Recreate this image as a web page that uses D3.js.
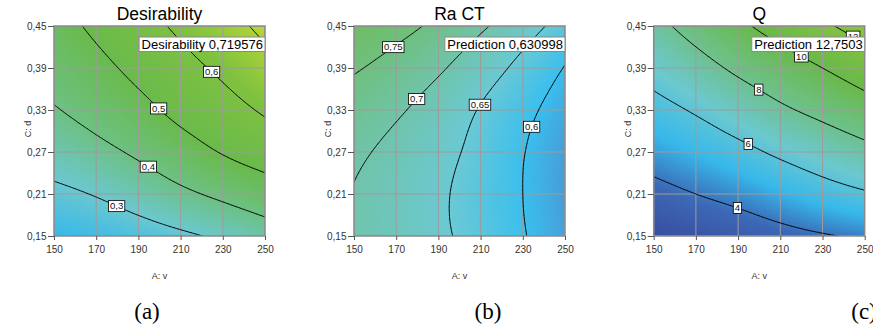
<!DOCTYPE html>
<html>
<head>
<meta charset="utf-8">
<script src="https://cdn.jsdelivr.net/npm/d3@7"></script>
<style>
  body { margin: 0; background: #ffffff; }
</style>
</head>
<body>
<svg id="chart" width="873" height="331"></svg>
<script>
// Factor grid: cutting speed v (A) across, depth of cut d (C) up.
const speedTicks = [150, 170, 190, 210, 230, 250];
const depthTicks = [0.15, 0.21, 0.27, 0.33, 0.39, 0.45];
const speedTickLabels = ["150", "170", "190", "210", "230", "250"];
const depthTickLabels = ["0,15", "0,21", "0,27", "0,33", "0,39", "0,45"];

// Response values at each (d, v) grid node; one row per depth, low to high.
const desirability = [
  [0.222, 0.237, 0.258, 0.284, 0.316, 0.352],
  [0.282, 0.305, 0.341, 0.382, 0.418, 0.454],
  [0.340, 0.375, 0.414, 0.460, 0.505, 0.541],
  [0.394, 0.432, 0.474, 0.524, 0.566, 0.611],
  [0.435, 0.476, 0.523, 0.571, 0.617, 0.669],
  [0.468, 0.516, 0.566, 0.616, 0.667, 0.720]
];
const raCT = [
  [0.696, 0.679, 0.658, 0.633, 0.603, 0.570],
  [0.698, 0.679, 0.657, 0.630, 0.600, 0.565],
  [0.708, 0.688, 0.665, 0.636, 0.602, 0.567],
  [0.727, 0.706, 0.680, 0.647, 0.613, 0.578],
  [0.755, 0.732, 0.706, 0.673, 0.637, 0.598],
  [0.791, 0.767, 0.739, 0.707, 0.671, 0.631]
];
const flowQ = [
  [2.69, 3.00, 3.30, 3.62, 3.90, 4.17],
  [3.60, 4.00, 4.38, 4.88, 5.40, 5.85],
  [4.58, 5.05, 5.60, 6.25, 6.88, 7.52],
  [5.55, 6.15, 6.92, 7.74, 8.45, 9.22],
  [6.53, 7.38, 8.30, 9.15, 10.00, 10.95],
  [7.54, 8.61, 9.67, 10.70, 11.71, 12.75]
];

// Contour levels and their printed labels (null = line without label)
const desirabilityLevels = [0.3, 0.4, 0.5, 0.6, 0.7];
const desirabilityLevelLabels = ["0,3", "0,4", "0,5", "0,6", null];
const raLevels = [0.6, 0.65, 0.7, 0.75];
const raLevelLabels = ["0,6", "0,65", "0,7", "0,75"];
const qLevels = [4, 6, 8, 10, 12];
const qLevelLabels = ["4", "6", "8", "10", "12"];

// Flagged optimum (v = 250, d = 0.45)
const flagNames = ["Desirability", "Prediction", "Prediction"];
const flagValues = ["0,719576", "0,630998", "12,7503"];
const titles = ["Desirability", "Ra CT", "Q"];
const captions = ["(a)", "(b)", "(c)"];

// ---- layout & style ----
const sans = '"Liberation Sans", Arial, sans-serif';
const serif = '"Liberation Serif", "Times New Roman", serif';
const plotLefts = [54, 354, 653.7];
const plotTop = 26, plotW = 211, plotH = 210;
const captionX = [147, 488, 864];
// speed at which each contour label sits on its line
const labelSpeeds = [
  [179.7, 194.7, 199.6, 224.7, null],
  [234.2, 209.7, 179.7, 168.6],
  [189.7, 194.8, 199.8, 220.0, 244.5]
];
const colorStops = [
  { domain: [0.22, 0.30, 0.40, 0.50, 0.62, 0.72],
    range: ["#37b8ea", "#6bc8d0", "#6dc183", "#6aba4c", "#80c240", "#b8d638"] },
  { domain: [0.565, 0.60, 0.65, 0.70, 0.75, 0.79],
    range: ["#489dd7", "#3abfee", "#6bc9d4", "#70c4aa", "#6fc07e", "#70bd65"] },
  { domain: [2.6, 3.8, 5.0, 6.5, 8.0, 10.0, 12.75],
    range: ["#3a4c9f", "#3d69b6", "#38b9eb", "#6dc9d0", "#6fc290", "#6bba4c", "#8dc63f"] }
];

const grids = [desirability, raCT, flowQ];
const levelSets = [desirabilityLevels, raLevels, qLevels];
const levelLabelSets = [desirabilityLevelLabels, raLevelLabels, qLevelLabels];

// Smooth surface through the grid nodes (Catmull-Rom, quadratic end extension)
function extend(a) {
  const n = a.length;
  return [3 * a[0] - 3 * a[1] + a[2], ...a, 3 * a[n - 1] - 3 * a[n - 2] + a[n - 3]];
}
function cr(p, t) {
  const i = Math.max(0, Math.min(Math.floor(t), p.length - 4));
  const s = t - i;
  const a = p[i], b = p[i + 1], c = p[i + 2], d = p[i + 3];
  return 0.5 * (2 * b + (c - a) * s + (2 * a - 5 * b + 4 * c - d) * s * s + (-a + 3 * b - 3 * c + d) * s * s * s);
}
function surface(grid) {
  const rows = grid.map(extend);
  return (tx, ty) => cr(extend(rows.map(r => cr(r, tx))), ty);
}

const v0 = speedTicks[0], v1 = speedTicks[speedTicks.length - 1];
const d0 = depthTicks[0], d1 = depthTicks[depthTicks.length - 1];
const nodes = speedTicks.length - 1;
const N = 161;

const svg = d3.select("#chart");
const defs = svg.append("defs");

grids.forEach((grid, k) => {
  const f = surface(grid);
  const x = d3.scaleLinear().domain([v0, v1]).range([0, plotW]);
  const y = d3.scaleLinear().domain([d0, d1]).range([plotH, 0]);
  const color = d3.scaleLinear().domain(colorStops[k].domain).range(colorStops[k].range).clamp(true);
  const tOfV = v => (v - v0) / (v1 - v0) * nodes;
  const tOfD = d => (d - d0) / (d1 - d0) * nodes;
  const value = (v, d) => f(tOfV(v), tOfD(d));

  // fine sample grid for the contour generator
  const values = new Float64Array(N * N);
  for (let j = 0; j < N; j++) {
    for (let i = 0; i < N; i++) {
      values[j * N + i] = f(i * nodes / (N - 1), j * nodes / (N - 1));
    }
  }
  const [vmin, vmax] = d3.extent(values);
  const path = d3.geoPath(d3.geoTransform({
    point(X, Y) {
      this.stream.point(
        x(v0 + (X - 0.5) * (v1 - v0) / (N - 1)),
        y(d0 + (Y - 0.5) * (d1 - d0) / (N - 1)));
    }
  }));

  const g = svg.append("g").attr("transform", `translate(${plotLefts[k]},${plotTop})`);
  const clipId = "plot-clip-" + k;
  defs.append("clipPath").attr("id", clipId)
    .append("rect").attr("width", plotW).attr("height", plotH);

  const field = g.append("g").attr("clip-path", `url(#${clipId})`);
  field.append("rect").attr("width", plotW).attr("height", plotH).attr("fill", color(vmin));
  const K = 140;
  const step = (vmax - vmin) / K;
  const bandThresholds = d3.range(1, K).map(q => vmin + q * step);
  const bands = d3.contours().size([N, N]).thresholds(bandThresholds)(values);
  field.selectAll("path.band").data(bands).join("path")
    .attr("class", "band")
    .attr("d", path)
    .attr("fill", c => color(c.value + step / 2))
    .attr("stroke", c => color(c.value + step / 2))
    .attr("stroke-width", 0.4);

  // grid lines
  field.selectAll("line.gx").data(speedTicks).join("line").attr("class", "gx")
    .attr("x1", d => x(d)).attr("x2", d => x(d)).attr("y1", 0).attr("y2", plotH)
    .attr("stroke", "#9c9c9c").attr("stroke-width", 1);
  field.selectAll("line.gy").data(depthTicks).join("line").attr("class", "gy")
    .attr("y1", d => y(d)).attr("y2", d => y(d)).attr("x1", 0).attr("x2", plotW)
    .attr("stroke", "#9c9c9c").attr("stroke-width", 1);

  // contour lines
  const levels = levelSets[k];
  const lines = d3.contours().size([N, N]).thresholds(levels)(values);
  field.selectAll("path.level").data(lines).join("path")
    .attr("class", "level")
    .attr("d", path)
    .attr("fill", "none")
    .attr("stroke", "#000")
    .attr("stroke-width", 1);

  // plot frame
  g.append("rect").attr("width", plotW).attr("height", plotH)
    .attr("fill", "none").attr("stroke", "#8a8a8a").attr("stroke-width", 1.5);

  // contour labels, placed on the line at the chosen speed
  levels.forEach((lv, li) => {
    const txt = levelLabelSets[k][li];
    const vs = labelSpeeds[k][li];
    if (txt == null || vs == null) return;
    let dPrev = d1, fPrev = value(vs, d1), dAt = null;
    for (let s = 1; s <= 300; s++) {
      const dd = d1 - (d1 - d0) * s / 300;
      const fv = value(vs, dd);
      if ((fPrev - lv) * (fv - lv) <= 0) {
        dAt = dPrev + (dd - dPrev) * (lv - fPrev) / (fv - fPrev);
        break;
      }
      dPrev = dd; fPrev = fv;
    }
    if (dAt == null) return;
    const cx = x(vs), cy = y(dAt);
    const lg = g.append("g").attr("transform", `translate(${cx},${cy})`);
    const t = lg.append("text").attr("text-anchor", "middle").attr("dy", "0.35em")
      .style("font-family", sans).attr("font-size", 9.5).attr("fill", "#111").text(txt);
    const w = t.node().getComputedTextLength();
    lg.insert("rect", "text").attr("x", -w / 2 - 1.5).attr("y", -5.5)
      .attr("width", w + 3).attr("height", 11)
      .attr("fill", "#fff").attr("stroke", "#000").attr("stroke-width", 0.8);
  });

  // axes
  const yAxis = d3.axisLeft(y).tickValues(depthTicks)
    .tickFormat((d, i) => depthTickLabels[i]).tickSize(6).tickPadding(1.5);
  const xAxis = d3.axisBottom(x).tickValues(speedTicks)
    .tickFormat((d, i) => speedTickLabels[i]).tickSize(4).tickPadding(5.5);
  const ya = g.append("g").call(yAxis);
  const xa = g.append("g").attr("transform", `translate(0,${plotH})`).call(xAxis);
  [ya, xa].forEach(a => {
    a.select(".domain").remove();
    a.selectAll(".tick line").attr("stroke", "#555");
    a.selectAll(".tick text").attr("font-size", 10).attr("fill", "#333")
      .style("font-family", sans);
  });

  // axis titles
  g.append("text").attr("x", plotW / 2).attr("y", 253).attr("text-anchor", "middle")
    .style("font-family", sans).attr("font-size", 9).attr("fill", "#333").text("A: v");
  g.append("text").attr("transform", `translate(-26,${plotH / 2 - 2}) rotate(-90)`)
    .attr("text-anchor", "middle").attr("dy", "0.35em")
    .style("font-family", sans).attr("font-size", 9).attr("fill", "#333").text("C: d");

  // chart title
  g.append("text").attr("x", plotW / 2).attr("y", -6).attr("text-anchor", "middle")
    .style("font-family", sans).attr("font-size", 17.5).attr("fill", "#000").text(titles[k]);

  // flag box for the optimum
  const flag = g.append("g");
  const ft = flag.append("text").attr("y", 22.5).style("font-family", sans)
    .attr("font-size", 13).attr("fill", "#000")
    .text(flagNames[k] + " " + flagValues[k]);
  const fw = ft.node().getComputedTextLength();
  ft.attr("x", plotW - 2 - fw);
  flag.insert("rect", "text").attr("x", plotW - fw - 4.5).attr("y", 11)
    .attr("width", fw + 4.5).attr("height", 14.5)
    .attr("fill", "#fff").attr("stroke", "#8a8a8a").attr("stroke-width", 1);

  // panel caption
  svg.append("text").attr("x", captionX[k]).attr("y", 319).attr("text-anchor", "middle")
    .style("font-family", serif)
    .attr("font-size", 23).attr("fill", "#000").text(captions[k]);
});
</script>
</body>
</html>
